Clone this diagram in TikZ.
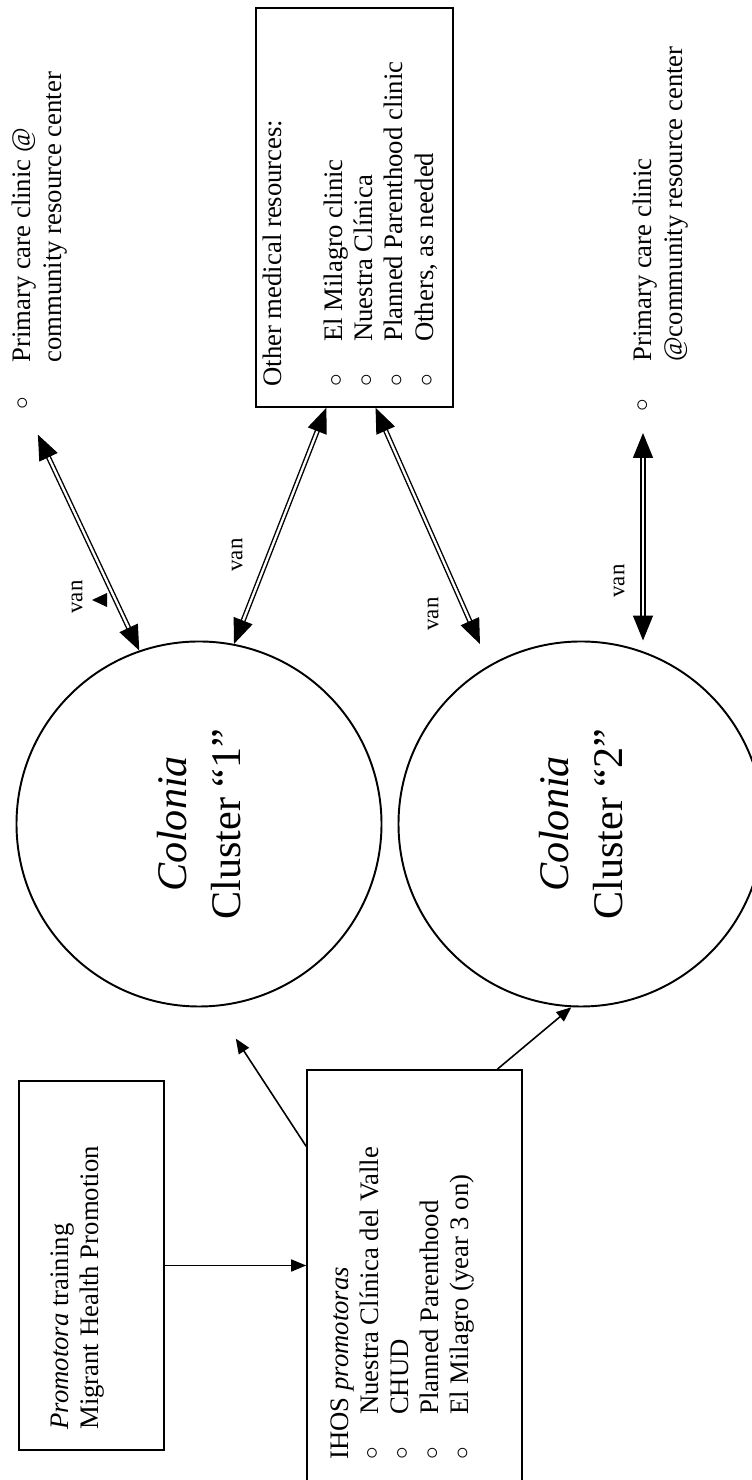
\documentclass[tikz,border=0pt]{standalone}
\usepackage{fontspec}
\setmainfont{Liberation Serif}
\usetikzlibrary{arrows.meta}
\newcommand{\blt}{\makebox[25.5pt][l]{$\circ$}}
\tikzset{
    txt/.style={font=\fontsize{15.2}{17.2}\selectfont, align=left, inner sep=0pt, anchor=north west},
    box/.style={draw, line width=0.9pt, inner sep=0pt},
    cluster/.style={circle, draw, line width=1.1pt, minimum size=73mm, inner sep=0pt,
        align=center, font=\fontsize{24}{31}\selectfont},
    van/.style={double, line width=0.8pt, double distance=1.3pt,
        {Triangle[length=5mm, width=4mm]}-{Triangle[length=5mm, width=4mm]}},
    arr/.style={line width=0.9pt, -{Triangle[length=3mm, width=2.4mm]}},
    lbl/.style={font=\fontsize{13}{15}\selectfont, inner sep=0pt},
    bltnode/.style={inner sep=0pt, font=\fontsize{15.2}{17.2}\selectfont}
}
\begin{document}
\begin{tikzpicture}[x=0.2mm, y=0.2mm, rotate=90, transform shape]
    \useasboundingbox (0,-752) rectangle (1480,0);
    % colonia clusters
    \node[cluster] (c1) at (656,-199) {\textit{Colonia}\\Cluster “1”};
    \node[cluster] (c2) at (656,-581) {\textit{Colonia}\\Cluster “2”};
    % training and promotoras
    \node[box, minimum width=73.8mm, minimum height=29mm] (promo) at (214.5,-91.5) {};
    \node[txt] (promotext) at (50,-50) {\textit{Promotora} training\\Migrant Health Promotion};
    \node[box, minimum width=86mm, minimum height=43mm] (ihos) at (195,-414.5) {};
    \node[txt] (ihostext) at (20,-330) {IHOS \textit{promotoras}\\
        \blt Nuestra Clínica del Valle\\
        \blt CHUD\\
        \blt Planned Parenthood\\
        \blt El Milagro (year 3 on)};
    % medical resources
    \node[box, minimum width=79.8mm, minimum height=39.4mm] (other) at (1272.5,-354.5) {};
    \node[txt] (othertext) at (1093,-263) {Other medical resources:\\[17.2pt]
        \blt El Milagro clinic\\
        \blt Nuestra Clínica\\
        \blt Planned Parenthood clinic\\
        \blt Others, as needed};
    \node[bltnode] (b1) at (1077,-23) {$\circ$};
    \node[txt] (pcc1) at (1117,-12) {Primary care clinic @\\community resource center};
    \node[bltnode] (b2) at (1075,-643) {$\circ$};
    \node[txt] (pcc2) at (1118,-633) {Primary care clinic\\@community resource center};
    % van links
    \draw[van, shorten >=7mm] (c1.19) -- (b1.center);
    \draw[van] (other.172.4) -- (c1.-11);
    \draw[van, shorten >=4.6mm] (other.186.4) -- (c2.30);
    \draw[van, shorten <=5.6mm] (b2.center) -- (c2.east |- b2);
    \foreach \x/\y/\n in {883/-77/1, 925/-237/2, 866/-433/3, 899/-619/4}
        \node[lbl] (van\n) at (\x,\y) {van};
    \fill (873,-107) -- (887,-107) -- (880,-92) -- cycle;
    % promotora links
    \draw[arr] (promo.south) -- (ihos.north -| promo.south);
    \draw[arr, shorten >=7.6mm] (ihos.38.5) -- (c1.185);
    \draw[arr] (ihos.-21) -- (c2.177);
\end{tikzpicture}
\end{document}
